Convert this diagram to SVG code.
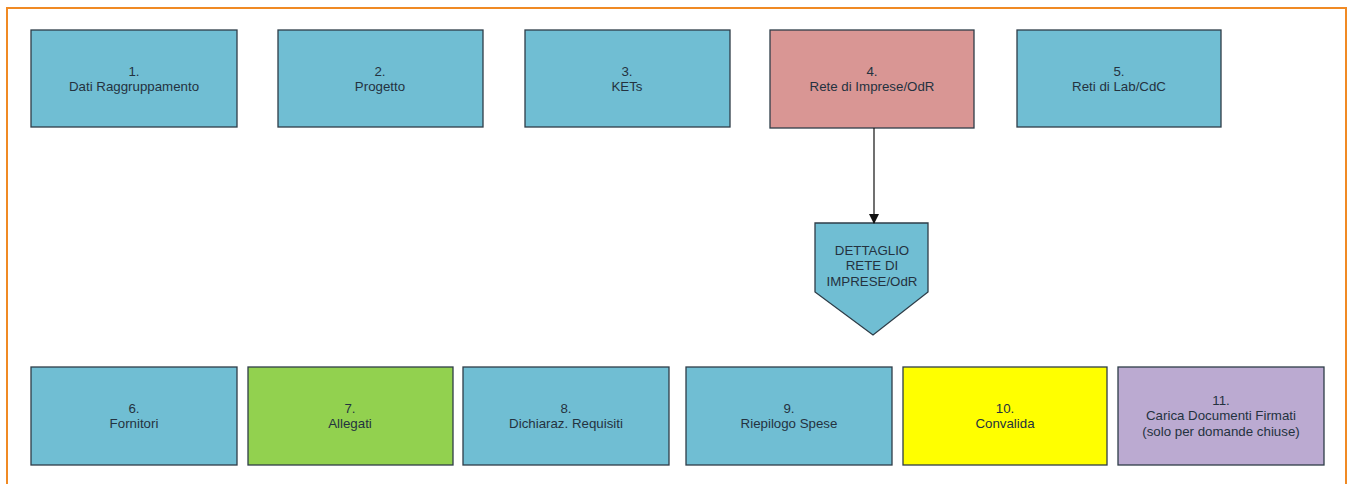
<svg xmlns="http://www.w3.org/2000/svg" width="1355" height="484" viewBox="0 0 1355 484">
<style>
.box{stroke:#2e3d48;stroke-width:1.3}
.blue{fill:#70bed3}
.pink{fill:#d99694}
.green{fill:#92d14f}
.yellow{fill:#ffff00}
.purple{fill:#bbaad1}
text{font-family:"Liberation Sans",Arial,sans-serif;font-size:13.3px;fill:#24323f;text-anchor:middle}
</style>
<defs>
<marker id="arr" markerWidth="10" markerHeight="10" refX="9" refY="5" orient="auto" markerUnits="userSpaceOnUse">
<path d="M0,0 L10,5 L0,10 z" fill="#111"/>
</marker>
</defs>
<rect x="0" y="0" width="1355" height="484" fill="#fff"/>
<path d="M7,484 V8 H1346 V484" fill="none" stroke="#f08a24" stroke-width="2"/>
<g id="n1"><rect class="box blue" x="31" y="30" width="206" height="97"/><text x="134" y="76">1.</text><text x="134" y="91">Dati Raggruppamento</text></g>
<g id="n2"><rect class="box blue" x="278" y="30" width="205" height="97"/><text x="380" y="76">2.</text><text x="380" y="91">Progetto</text></g>
<g id="n3"><rect class="box blue" x="525" y="30" width="205" height="97"/><text x="627" y="76">3.</text><text x="627" y="91">KETs</text></g>
<g id="n4"><rect class="box pink" x="770" y="30" width="204" height="98"/><text x="872" y="76">4.</text><text x="872" y="91">Rete di Imprese/OdR</text></g>
<g id="n5"><rect class="box blue" x="1017" y="30" width="204" height="97"/><text x="1119" y="76">5.</text><text x="1119" y="91">Reti di Lab/CdC</text></g>
<g id="n4d"><path class="box blue" d="M815,223 H928 V292 L873,335 L815,292 Z"/><text x="872" y="255">DETTAGLIO</text><text x="872" y="270">RETE DI</text><text x="872" y="286">IMPRESE/OdR</text></g>
<g id="n6"><rect class="box blue" x="31" y="367" width="206" height="98"/><text x="134" y="413">6.</text><text x="134" y="428">Fornitori</text></g>
<g id="n7"><rect class="box green" x="248" y="367" width="205" height="98"/><text x="350" y="413">7.</text><text x="350" y="428">Allegati</text></g>
<g id="n8"><rect class="box blue" x="463" y="367" width="206" height="98"/><text x="566" y="413">8.</text><text x="566" y="428">Dichiaraz. Requisiti</text></g>
<g id="n9"><rect class="box blue" x="686" y="367" width="206" height="98"/><text x="789" y="413">9.</text><text x="789" y="428">Riepilogo Spese</text></g>
<g id="n10"><rect class="box yellow" x="903" y="367" width="204" height="98"/><text x="1005" y="413">10.</text><text x="1005" y="428">Convalida</text></g>
<g id="n11"><rect class="box purple" x="1118" y="367" width="206" height="98"/><text x="1221" y="405">11.</text><text x="1221" y="420">Carica Documenti Firmati</text><text x="1221" y="436">(solo per domande chiuse)</text></g>
<g id="connectors"><line x1="874" y1="128" x2="874" y2="223" stroke="#111" stroke-width="1.2" marker-end="url(#arr)"/></g>
</svg>
